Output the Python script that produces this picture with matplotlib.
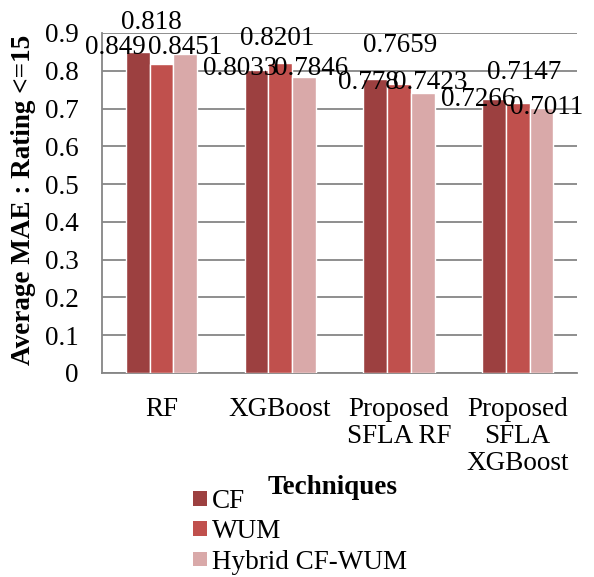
import matplotlib
matplotlib.use("Agg")
import matplotlib.pyplot as plt
import numpy as np
from matplotlib.patches import Patch

categories = ["RF", "XGBoost", "Proposed\nSFLA RF", "Proposed\nSFLA\nXGBoost"]
series_names = ["CF", "WUM", "Hybrid CF-WUM"]
cf_vals = [0.849, 0.8033, 0.778, 0.7266]
wum_vals = [0.818, 0.8201, 0.7659, 0.7147]
hyb_vals = [0.8451, 0.7846, 0.7423, 0.7011]
cf_labels = ["0.849", "0.8033", "0.778", "0.7266"]
wum_labels = ["0.818", "0.8201", "0.7659", "0.7147"]
hyb_labels = ["0.8451", "0.7846", "0.7423", "0.7011"]
y_ticks = [0, 0.1, 0.2, 0.3, 0.4, 0.5, 0.6, 0.7, 0.8, 0.9]
y_ticklabels = ["0", "0.1", "0.2", "0.3", "0.4", "0.5", "0.6", "0.7", "0.8", "0.9"]

colors = ["#9C4040", "#C0504D", "#D9A9A9"]
# label offsets in pixels: (dx, visual-centre height above bar top)
label_offsets = [
    [(-22.5, 7.5), (-16, 4), (-6.5, -0.7), (-15.5, 2)],
    [(-10.5, 43.7), (-3, 27), (1, 41), (6, 33)],
    [(0, 9), (7, 11), (8, 13), (5.5, 3)],
]

plt.rcParams["font.family"] = ["Liberation Serif", "DejaVu Serif"]
FS = 19.5

fig = plt.figure(figsize=(5.94, 5.77), dpi=100)
ax = fig.add_axes([102 / 594, 1 - 373 / 577, (577 - 102) / 594, (373 - 33) / 577])

x = np.arange(len(categories))
w = 0.2
all_vals = [cf_vals, wum_vals, hyb_vals]
all_labels = [cf_labels, wum_labels, hyb_labels]
for i, (vals, labs) in enumerate(zip(all_vals, all_labels)):
    xs = x + (i - 1) * w
    ax.bar(xs, vals, width=w, color=colors[i], edgecolor="white", linewidth=1.0,
           zorder=3, label=series_names[i])
    for j, (xv, v, lab) in enumerate(zip(xs, vals, labs)):
        dx, dy = label_offsets[i][j]
        ax.annotate(lab, (xv, v), xytext=(dx * 0.72, (dy - 9) * 0.72),
                    textcoords="offset points", ha="center", va="baseline",
                    fontsize=FS, color="black", zorder=5, annotation_clip=False)

ax.set_xlim(-0.5, len(categories) - 0.5)
ax.set_ylim(0, 0.9)
ax.set_yticks(y_ticks)
ax.set_yticklabels(y_ticklabels, fontsize=FS)
ax.set_xticks(x)
ax.set_xticklabels(categories, fontsize=FS, linespacing=1.12)
ax.tick_params(axis="both", length=0)
ax.tick_params(axis="y", pad=17)
ax.tick_params(axis="x", pad=17)
ax.yaxis.grid(True, color="#868686", linewidth=1.3, zorder=0)
for s in ["top", "right"]:
    ax.spines[s].set_visible(False)
for s in ["left", "bottom"]:
    ax.spines[s].set_color("#868686")
    ax.spines[s].set_linewidth(1.3)

fig.text(24 / 594, 1 - 200 / 577, "Average MAE : Rating <=15", rotation=90,
         ha="center", va="center", fontsize=FS, fontweight="bold")
fig.text(333 / 594, 1 - 487 / 577, "Techniques", ha="center", va="center",
         fontsize=FS, fontweight="bold")

handles = [Patch(facecolor=c, edgecolor="none") for c in colors]
fig.legend(handles, series_names, loc="upper left",
           bbox_to_anchor=(193 / 594, 1 - 489 / 577), frameon=False,
           fontsize=FS, handlelength=0.5, handleheight=0.45, handletextpad=0.2,
           labelspacing=0.2, borderpad=0, borderaxespad=0)

fig.savefig("out.png", dpi=100)
